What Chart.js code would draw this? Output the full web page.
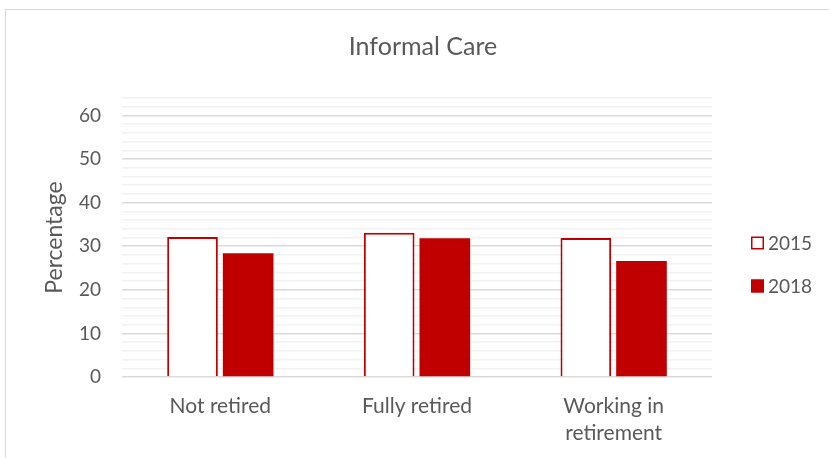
<!DOCTYPE html>
<html>
<head>
<meta charset="utf-8">
<script src="https://cdn.jsdelivr.net/npm/chart.js@4"></script>
<style>
  html, body { margin: 0; padding: 0; background: #fff; }
  #wrap { position: relative; width: 829px; height: 458px; overflow: hidden; }
  #frame { position: absolute; left: 5px; top: 9px; width: 840px; height: 460px; border: 1px solid #d9d9d9; }
  #myChart { position: absolute; left: 0; top: 0; }
</style>
</head>
<body>
<div id="wrap">
  <div id="frame"></div>
  <canvas id="myChart" width="829" height="458"></canvas>
</div>
<script>
const categories = [["Not retired"], ["Fully retired"], ["Working in", "retirement"]];
const seriesNames = ["2015", "2018"];
const values2015 = [32.1, 33.1, 31.9];
const values2018 = [28.4, 31.8, 26.6];
const yTickLabels = [0, 10, 20, 30, 40, 50, 60];

const red = '#C00000';
const textColor = '#595959';
const fontFamily = 'Lato, "Open Sans", sans-serif';

// legend drawn by hand so it can sit where Excel put it
const legendPlugin = {
  id: 'sideLegend',
  afterDraw(chart) {
    const ctx = chart.ctx;
    const x = 751, ys = [243, 286];
    ctx.save();
    ctx.font = '19px ' + fontFamily;
    ctx.textBaseline = 'middle';
    chart.data.datasets.forEach((ds, i) => {
      const y = ys[i];
      ctx.fillStyle = ds.backgroundColor;
      ctx.fillRect(x, y - 6.5, 13, 13);
      ctx.strokeStyle = ds.borderColor;
      ctx.lineWidth = 1.5;
      ctx.strokeRect(x + 0.75, y - 5.75, 11.5, 11.5);
      ctx.fillStyle = textColor;
      ctx.fillText(ds.label, x + 17, y + 1);
    });
    ctx.restore();
  }
};

const ctx = document.getElementById('myChart').getContext('2d');
const myChart = new Chart(ctx, {
    type: 'bar',
    data: {
        labels: categories,
        datasets: [{
            label: seriesNames[0],
            data: values2015,
            backgroundColor: '#ffffff',
            borderColor: red,
            borderWidth: 2
        }, {
            label: seriesNames[1],
            data: values2018,
            backgroundColor: red,
            borderColor: red,
            borderWidth: 0
        }]
    },
    options: {
        responsive: false,
        animation: false,
        categoryPercentage: 0.566,
        barPercentage: 0.91,
        layout: { padding: { left: 17, right: 0, top: 10, bottom: 0 } },
        plugins: {
            legend: { display: false },
            tooltip: { enabled: false },
            title: {
                display: true,
                text: 'Informal Care',
                color: textColor,
                font: { family: fontFamily, size: 25, weight: 'normal' },
                padding: { top: 22, bottom: 36 }
            }
        },
        scales: {
            x: {
                grid: { display: false, drawTicks: false },
                border: { display: false },
                ticks: {
                    color: textColor,
                    padding: 16,
                    font: { family: fontFamily, size: 21, lineHeight: 1.286 }
                },
                afterFit: s => { s.height = 81; }
            },
            y: {
                min: 0,
                max: 64,
                afterBuildTicks: s => {
                    s.ticks = [];
                    for (let v = 0; v <= 64; v += 2) s.ticks.push({ value: v });
                },
                ticks: {
                    color: textColor,
                    padding: 21,
                    autoSkip: false,
                    font: { family: fontFamily, size: 19 },
                    callback: v => yTickLabels.includes(v) ? String(v) : ''
                },
                grid: {
                    drawTicks: false,
                    lineWidth: 1.5,
                    color: c => (c.tick && c.tick.value % 10 === 0) ? '#d9d9d9' : '#f2f2f2'
                },
                border: { display: false },
                title: {
                    display: true,
                    text: 'Percentage',
                    color: textColor,
                    font: { family: fontFamily, size: 23 },
                    padding: { top: 24, bottom: 0 }
                },
                afterFit: s => { s.width = 105; }
            },
            // empty right axis only reserves the legend's room
            y2: {
                position: 'right',
                grid: { display: false, drawTicks: false },
                border: { display: false },
                ticks: { display: false },
                afterFit: s => { s.width = 117; }
            }
        }
    },
    plugins: [legendPlugin]
});
</script>
</body>
</html>
